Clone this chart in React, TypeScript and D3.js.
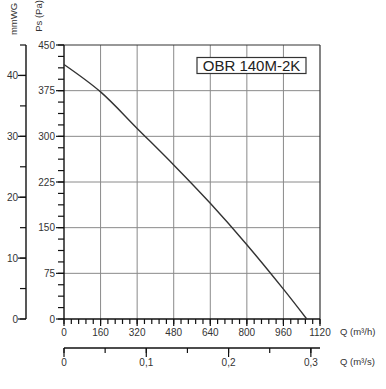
import React from "react";
import * as d3 from "d3";

const curveQ = [0, 160, 320, 480, 640, 800, 960, 1062];
const curvePa = [418, 373, 313, 253, 190, 122, 49, 0];
const paTicks = [0, 75, 150, 225, 300, 375, 450];
const mmTicks = [0, 10, 20, 30, 40];
const qhTicks = [0, 160, 320, 480, 640, 800, 960, 1120];
const qsTicks = [0, 0.1, 0.2, 0.3];
const qsLabels = ["0", "0,1", "0,2", "0,3"];
const modelName = "OBR 140M-2K";

const W = 386;
const H = 389;
const FONT = "Liberation Sans, Arial, sans-serif";
const TXT = "#333";

export default function App() {
  const x = d3.scaleLinear().domain([0, 1120]).range([64, 320]);
  const y = d3.scaleLinear().domain([0, 450]).range([319, 45]);
  const ymm = d3.scaleLinear().domain([0, 45]).range([319, 45]);
  const xs = d3.scaleLinear().domain([0, 1120 / 3600]).range([64, 320]);

  const line = d3
    .line<number>()
    .x((_, i) => x(curveQ[i]))
    .y((d) => y(d))
    .curve(d3.curveCatmullRom.alpha(0.5));

  const paMinor = d3.range(0, 450 + 0.01, 18.75);
  const mmMinor = d3.range(0, 45 + 0.01, 5);
  const qhMinor = d3.range(0, 1120 + 0.01, 32);
  const qsMinor = d3.range(0, 0.3 + 0.001, 0.05);

  const [x0, x1] = x.range();
  const [yb, yt] = y.range();
  const y2 = 348;

  return (
    <svg width={W} height={H} style={{ position: "absolute", left: 0, top: 0, background: "#fff" }} fontFamily={FONT}>
      <rect x={0} y={0} width={W} height={H} fill="#fff" />
      {/* grid */}
      {qhTicks.slice(1, -1).map((t) => (
        <line key={"gx" + t} x1={x(t)} x2={x(t)} y1={yb} y2={yt} stroke="#8a8a8a" strokeWidth={1} />
      ))}
      {paTicks.slice(1, -1).map((t) => (
        <line key={"gy" + t} x1={x0} x2={x1} y1={y(t)} y2={y(t)} stroke="#8a8a8a" strokeWidth={1} />
      ))}
      {/* frame */}
      <line x1={x0} x2={x1} y1={yt} y2={yt} stroke="#333" strokeWidth={1.2} />
      <line x1={x1} x2={x1} y1={yt} y2={yb} stroke="#333" strokeWidth={1.2} />
      <line x1={x0} x2={x0} y1={yt} y2={yb} stroke="#111" strokeWidth={1.4} />
      <line x1={x0} x2={x1} y1={yb} y2={yb} stroke="#111" strokeWidth={1.4} />

      {/* Ps ticks */}
      {paMinor.map((t) => (
        <line key={"pm" + t} x1={x0 - 6} x2={x0} y1={y(t)} y2={y(t)} stroke="#111" strokeWidth={1.2} />
      ))}
      {paTicks.map((t) => (
        <g key={"pt" + t}>
          <line x1={x0 - 8} x2={x0} y1={y(t)} y2={y(t)} stroke="#111" strokeWidth={1.2} />
          <text x={x0 - 9} y={y(t)} dy="0.35em" textAnchor="end" fontSize={10} fill={TXT}>
            {t}
          </text>
        </g>
      ))}

      {/* mmWG axis */}
      <line x1={26} x2={26} y1={ymm(45)} y2={ymm(0)} stroke="#111" strokeWidth={1.4} />
      {mmMinor.map((t) => (
        <line key={"mm" + t} x1={20} x2={26} y1={ymm(t)} y2={ymm(t)} stroke="#111" strokeWidth={1.2} />
      ))}
      {mmTicks.map((t) => (
        <g key={"mt" + t}>
          <line x1={18} x2={26} y1={ymm(t)} y2={ymm(t)} stroke="#111" strokeWidth={1.2} />
          <text x={18} y={ymm(t)} dy="0.35em" textAnchor="end" fontSize={10} fill={TXT}>
            {t}
          </text>
        </g>
      ))}

      {/* Q m3/h axis ticks */}
      {qhMinor.map((t) => (
        <line key={"qm" + t} x1={x(t)} x2={x(t)} y1={yb} y2={yb + 5} stroke="#111" strokeWidth={1.2} />
      ))}
      {qhTicks.map((t) => (
        <g key={"qt" + t}>
          <line x1={x(t)} x2={x(t)} y1={yb} y2={yb + 7} stroke="#111" strokeWidth={1.2} />
          <text x={x(t)} y={332} dy="0.35em" textAnchor="middle" fontSize={10} fill={TXT}>
            {t}
          </text>
        </g>
      ))}

      {/* Q m3/s axis */}
      <line x1={x0} x2={x1} y1={y2} y2={y2} stroke="#111" strokeWidth={1.4} />
      {qsMinor.map((t) => (
        <line key={"sm" + t} x1={xs(t)} x2={xs(t)} y1={y2} y2={y2 + 5} stroke="#111" strokeWidth={1.2} />
      ))}
      {qsTicks.map((t, i) => (
        <g key={"st" + t}>
          <line x1={xs(t)} x2={xs(t)} y1={y2} y2={y2 + 9} stroke="#111" strokeWidth={1.2} />
          <text x={xs(t)} y={362} dy="0.35em" textAnchor="middle" fontSize={10} fill={TXT}>
            {qsLabels[i]}
          </text>
        </g>
      ))}

      {/* axis titles */}
      <text x={340} y={332} dy="0.35em" fontSize={9.5} fill={TXT}>
        Q (m³/h)
      </text>
      <text x={340} y={362} dy="0.35em" fontSize={9.5} fill={TXT}>
        Q (m³/s)
      </text>
      <text transform="translate(14,19) rotate(-90)" textAnchor="middle" dy="0.35em" fontSize={9.5} fill={TXT}>
        mmWG
      </text>
      <text transform="translate(39,16) rotate(-90)" textAnchor="middle" dy="0.35em" fontSize={9.5} fill={TXT}>
        Ps (Pa)
      </text>

      {/* curve */}
      <path d={line(curvePa) || ""} fill="none" stroke="#333" strokeWidth={1.4} />

      {/* model label */}
      <rect x={197} y={57.5} width={109} height={16} fill="#fff" stroke="#333" strokeWidth={1.2} />
      <text x={251.5} y={65.5} dy="0.36em" textAnchor="middle" fontSize={15} fill="#222">
        {modelName}
      </text>
    </svg>
  );
}
